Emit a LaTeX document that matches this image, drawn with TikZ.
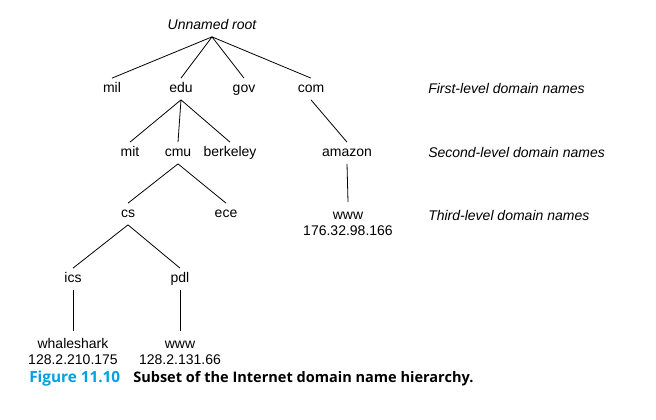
\documentclass[tikz,border=0pt]{standalone}
\usepackage{fontspec}
\setmainfont{Liberation Sans}
\newfontfamily\capfont{Open Sans}
\definecolor{figblue}{RGB}{0,160,226}
\begin{document}
\begin{tikzpicture}[x = 0.75pt, y = -0.75pt]
			% Fix the page size (656 x 420 px)
			\useasboundingbox (0, 0) rectangle (656, 420);

			% Styles for the tree
			\tikzset{dom/.style = {inner xsep = 1pt, inner ysep = 3pt, font = \fontsize{10.5}{11.6}\selectfont, text height = 7.7pt, text depth = 2.2pt}}
			\tikzset{host/.style = {anchor = north, inner xsep = 1pt, inner ysep = 5pt, font = \fontsize{10.5}{11.6}\selectfont, align = center}}
			\tikzset{lvl/.style = {anchor = west, inner sep = 0pt, font = \fontsize{10.5}{12}\selectfont\itshape}}
			\tikzset{edge/.style = {line width = 0.6pt}}

			% Root and first level
			\node[dom, font = \fontsize{10.5}{12}\selectfont\itshape] (root) at (212, 26) {Unnamed root};
			\node[dom] (mil) at (112, 89) {mil};
			\node[dom] (edu) at (181, 89) {edu};
			\node[dom] (gov) at (244, 89) {gov};
			\node[dom] (com) at (311, 89) {com};

			% Second level
			\node[dom] (mit) at (130, 153) {mit};
			\node[dom] (cmu) at (178, 153) {cmu};
			\node[dom] (berkeley) at (230, 153) {berkeley};
			\node[dom] (amazon) at (347, 153) {amazon};

			% Third level
			\node[dom] (cs) at (128, 214) {cs};
			\node[dom] (ece) at (226, 214) {ece};
			\node[host] (amazonwww) at (348, 202) {\strut www\\176.32.98.166};

			% Fourth level and hosts
			\node[dom] (ics) at (73, 279) {ics};
			\node[dom] (pdl) at (180, 279) {pdl};
			\node[host] (whaleshark) at (73, 331) {\strut whaleshark\\128.2.210.175};
			\node[host] (pdlwww) at (180, 331) {\strut www\\128.2.131.66};

			% Draw the tree edges
			\foreach \child in {mil, edu, gov, com}
				\draw[edge] (root.south) -- (\child.north);
			\foreach \child in {mit, cmu, berkeley}
				\draw[edge] (edu.south) -- (\child.north);
			\draw[edge] (com.south) -- (amazon.north);
			\draw[edge] (cmu.south) -- (cs.north);
			\draw[edge] (cmu.south) -- (ece.north);
			\draw[edge] (amazon.south) -- (amazonwww.north);
			\draw[edge] (cs.south) -- (ics.north);
			\draw[edge] (cs.south) -- (pdl.north);
			\draw[edge] (ics.south) -- (whaleshark.north);
			\draw[edge] (pdl.south) -- (pdlwww.north);

			% Level labels
			\node[lvl] (first) at (428, 89) {First-level domain names};
			\node[lvl] (second) at (428, 153) {Second-level domain names};
			\node[lvl] (third) at (428, 216) {Third-level domain names};

			% Caption
			\node[anchor = west, inner sep = 0pt, font = \capfont\bfseries\fontsize{11.5}{13}\selectfont, text = figblue] (fig) at (29, 379) {Figure 11.10};
			\node[anchor = west, inner sep = 0pt, font = \capfont\bfseries\fontsize{10.9}{13}\selectfont] (cap) at (133, 379) {Subset of the Internet domain name hierarchy.};

		\end{tikzpicture}
\end{document}
